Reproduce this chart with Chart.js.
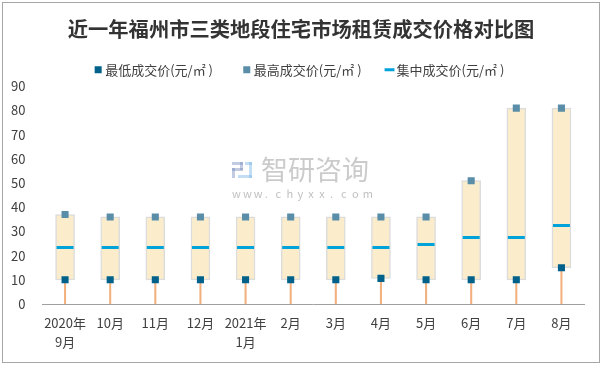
<!DOCTYPE html>
<html>
<head>
<meta charset="utf-8">
<script src="https://cdn.jsdelivr.net/npm/chart.js@4/dist/chart.umd.min.js"></script>
<style>
html,body{margin:0;padding:0;background:#fff;}
#wrap{width:602px;height:366px;position:relative;}
</style>
</head>
<body>
<div id="wrap"><canvas id="c" width="602" height="366"></canvas></div>
<script>
const titleText = '近一年福州市三类地段住宅市场租赁成交价格对比图';
const categories = [['2020年','9月'],'10月','11月','12月',['2021年','1月'],'2月','3月','4月','5月','6月','7月','8月'];
const lowPrice  = [10,10,10,10,10,10,10,10.6,10,10,10,15];
const highPrice = [37,36,36,36,36,36,36,36,36,51,81,81];
const midPrice  = [23.4,23.4,23.4,23.4,23.4,23.4,23.4,23.4,24.6,27.5,27.5,32.5];
const seriesNames = ['最低成交价(元/㎡ )','最高成交价(元/㎡ )','集中成交价(元/㎡ )'];
const yTicks = [0,10,20,30,40,50,60,70,80,90];

const FONT = '"Noto Sans CJK SC", "Noto Sans", sans-serif';

const rangeData = lowPrice.map((l,i)=>[l, highPrice[i]]);
const dropData = lowPrice.map(l=>[0, l]);

const frame = {
  id:'frame',
  beforeDraw(chart){
    const ctx = chart.ctx;
    ctx.save();
    ctx.fillStyle = '#fff';
    ctx.fillRect(0,0,chart.width,chart.height);
    // watermark
    ctx.fillStyle = 'rgba(160,160,160,0.55)';
    ctx.font = '27px ' + FONT;
    ctx.textBaseline = 'middle';
    ctx.textAlign = 'left';
    ctx.fillText('智研咨询', 261, 170);
    ctx.font = '11px ' + FONT;
    ctx.fillStyle = 'rgba(150,150,150,0.6)';
    const url = 'www.chyxx.com';
    let x = 232;
    for (const ch of url){ ctx.fillText(ch, x, 194); x += 10.9; }
    // logo
    ctx.fillStyle = 'rgba(120,140,190,0.45)';
    ctx.fillRect(232,162,11,3);
    ctx.fillRect(240,162,3,8);
    ctx.fillRect(232,168,11,3);
    ctx.fillRect(232,168,3,10);
    ctx.fillStyle = 'rgba(120,180,230,0.45)';
    ctx.fillRect(245,162,7,3);
    ctx.fillRect(249,162,3,16);
    ctx.fillRect(238,175,14,3);
    ctx.restore();
  },
  afterDraw(chart){
    const ctx = chart.ctx;
    ctx.save();
    ctx.strokeStyle = '#A6A6A6';
    ctx.lineWidth = 1;
    ctx.strokeRect(2.5,2.5,597,360);
    ctx.restore();
  }
};

new Chart(document.getElementById('c'), {
  data: {
    labels: categories,
    datasets: [
      {
        type:'bar', label:'drop', data: dropData,
        backgroundColor:'#F2B07E', borderWidth:0,
        barThickness:1.4, grouped:false, order:10
      },
      {
        type:'bar', label:'range', data: rangeData,
        backgroundColor:'#FBEDCC', borderColor:'#DCDCDC', borderWidth:1.5,
        borderSkipped:false, barThickness:19, grouped:false, order:9
      },
      {
        type:'line', label: seriesNames[0] + '        ', data: lowPrice,
        showLine:false, pointStyle:'rect', pointRadius:5, pointHoverRadius:5,
        backgroundColor:'#00618A', borderColor:'#00618A', borderWidth:0, pointBorderWidth:0, order:1
      },
      {
        type:'line', label: seriesNames[1] + '      ', data: highPrice,
        showLine:false, pointStyle:'rect', pointRadius:5, pointHoverRadius:5,
        backgroundColor:'#5A8DA7', borderColor:'#5A8DA7', borderWidth:0, pointBorderWidth:0, order:2
      },
      {
        type:'line', label: seriesNames[2], data: midPrice,
        showLine:false, pointStyle:'line', pointRadius:8.5, pointHoverRadius:8.5,
        backgroundColor:'#00A2DA', borderColor:'#00A2DA', borderWidth:2.5, pointBorderWidth:3, order:3
      }
    ]
  },
  options: {
    responsive:false,
    animation:false,
    devicePixelRatio:1,
    layout:{padding:{top:0,left:0,right:0,bottom:0}},
    plugins:{
      tooltip:{enabled:false},
      title:{
        display:true, text:titleText, color:'#333333',
        font:{family:FONT, size:20.3, weight:'bold', lineHeight:1.2},
        padding:{top:17,bottom:12}
      },
      legend:{
        display:true, position:'top',
        labels:{
          usePointStyle:true, boxWidth:1, boxHeight:7, padding:10,
          color:'#404040', font:{family:FONT, size:13},
          filter:(item)=>item.datasetIndex>=2
        }
      }
    },
    scales:{
      x:{
        offset:true,
        grid:{display:false, drawTicks:false},
        border:{display:true, color:'#A0A0A0', width:1},
        ticks:{color:'#404040', font:{family:FONT, size:13, lineHeight:1.5}, padding:9, maxRotation:0, autoSkip:false},
        afterFit(s){ s.height = 62; }
      },
      y:{
        min:0, max:90,
        grid:{display:false, drawTicks:false},
        border:{display:false},
        afterBuildTicks(s){ s.ticks = yTicks.map(v=>({value:v})); },
        ticks:{color:'#404040', font:{family:FONT, size:13}, padding:17},
        afterFit(s){ s.width = 42.5; }
      },
      yRight:{
        position:'right', min:0, max:90,
        grid:{display:false, drawTicks:false},
        border:{display:false},
        ticks:{display:false},
        afterFit(s){ s.width = 18; }
      }
    }
  },
  plugins:[frame]
});
</script>
</body>
</html>
